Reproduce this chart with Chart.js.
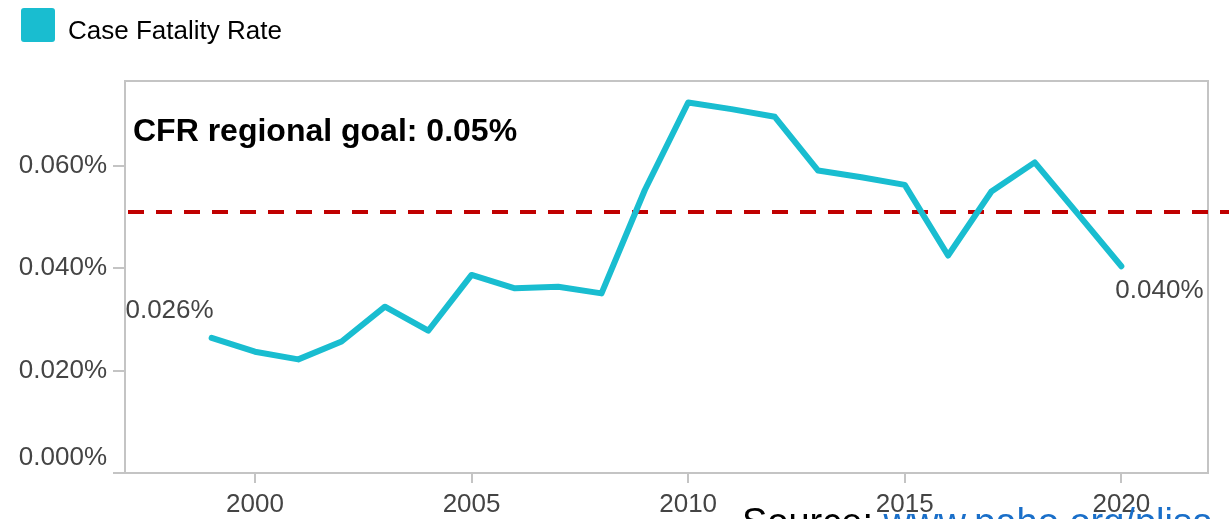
<!DOCTYPE html>
<html>
<head>
<meta charset="utf-8">
<script src="https://cdn.jsdelivr.net/npm/chart.js@4.4.1/dist/chart.umd.min.js"></script>
<style>
  html, body { margin: 0; padding: 0; background: #ffffff; }
  #wrap { width: 1229px; height: 519px; position: relative; }
</style>
</head>
<body>
<div id="wrap"><canvas id="c" width="1229" height="519"></canvas></div>
<script>
// ---- Data ----
const years = [1999, 2000, 2001, 2002, 2003, 2004, 2005, 2006, 2007, 2008, 2009, 2010,
               2011, 2012, 2013, 2014, 2015, 2016, 2017, 2018, 2019, 2020];
const cfrValues = [0.0264, 0.0237, 0.0222, 0.0257, 0.0325, 0.0278, 0.0387, 0.0361, 0.0364, 0.0351, 0.0553, 0.0724,
                   0.0711, 0.0696, 0.0591, 0.0578, 0.0563, 0.0425, 0.0550, 0.0607, 0.0506, 0.0404];
const goalValue = 0.051;
const goalRange = [1997, 2024];
const xTicks = [2000, 2005, 2010, 2015, 2020];
const yTicks = [0, 0.02, 0.04, 0.06];
const seriesName = 'Case Fatality Rate';
const goalText = 'CFR regional goal: 0.05%';
const sourceLabel = 'Source: ';
const sourceLink = 'www.paho.org/plisa';

const FONT = "'Liberation Sans', Arial, Helvetica, sans-serif";
const LINE_COLOR = '#19bdd0';
const AXIS_COLOR = '#c4c4c4';
const TEXT_COLOR = '#444444';
const fmt = v => v.toFixed(3) + '%';

const legendGap = {
  id: 'legendGap',
  afterInit(chart) {
    const legend = chart.legend;
    const origFit = legend.fit;
    legend.fit = function () { origFit.call(this); this.height += 29; };
  }
};

const decorations = {
  id: 'decorations',
  beforeDatasetsDraw(chart) {
    const { ctx, chartArea: a } = chart;
    ctx.save();
    ctx.strokeStyle = AXIS_COLOR;
    ctx.lineWidth = 2;
    ctx.beginPath();
    ctx.moveTo(a.left, a.top);
    ctx.lineTo(a.right, a.top);
    ctx.lineTo(a.right, a.bottom);
    ctx.stroke();
    ctx.restore();
  },
  afterDatasetsDraw(chart) {
    const { ctx, chartArea: a } = chart;
    const meta = chart.getDatasetMeta(0);
    const first = meta.data[0];
    const last = meta.data[meta.data.length - 1];
    ctx.save();
    // goal text
    ctx.font = 'bold 32px ' + FONT;
    ctx.fillStyle = '#000000';
    ctx.textAlign = 'left';
    ctx.textBaseline = 'alphabetic';
    ctx.fillText(goalText, a.left + 8, a.top + 60);
    // end labels
    ctx.font = '26px ' + FONT;
    ctx.fillStyle = TEXT_COLOR;
    ctx.textBaseline = 'middle';
    ctx.textAlign = 'right';
    ctx.fillText(fmt(cfrValues[0]), first.x + 2, first.y - 27);
    ctx.textAlign = 'left';
    ctx.fillText(fmt(cfrValues[cfrValues.length - 1]), last.x - 6, last.y + 25);
    ctx.restore();
  },
  afterDraw(chart) {
    const { ctx } = chart;
    ctx.save();
    ctx.font = '38px ' + FONT;
    ctx.textBaseline = 'alphabetic';
    ctx.textAlign = 'left';
    ctx.fillStyle = '#000000';
    const x0 = 742;
    ctx.fillText(sourceLabel, x0, 535);
    const w = ctx.measureText(sourceLabel).width;
    ctx.fillStyle = '#1a6fc9';
    ctx.fillText(sourceLink, x0 + w, 535);
    ctx.restore();
  }
};

new Chart(document.getElementById('c'), {
  type: 'line',
  data: {
    datasets: [
      {
        label: seriesName,
        data: years.map((y, i) => ({ x: y, y: cfrValues[i] })),
        borderColor: LINE_COLOR,
        backgroundColor: LINE_COLOR,
        borderWidth: 6,
        pointRadius: 0,
        tension: 0,
        borderCapStyle: 'round',
        borderJoinStyle: 'round',
        fill: false
      },
      {
        label: 'goal',
        data: goalRange.map(x => ({ x: x, y: goalValue })),
        borderColor: '#c00000',
        borderWidth: 4,
        borderDash: [16, 12],
        borderDashOffset: -3,
        pointRadius: 0,
        fill: false,
        clip: false
      }
    ]
  },
  options: {
    responsive: false,
    animation: false,
    devicePixelRatio: 1,
    layout: { padding: { top: 5, left: 18, right: 21, bottom: 0 } },
    plugins: {
      tooltip: { enabled: false },
      legend: {
        display: true,
        position: 'top',
        align: 'start',
        labels: {
          boxWidth: 34,
          boxHeight: 34,
          padding: 3,
          color: '#333333',
          font: { family: FONT, size: 26, lineHeight: '7px' },
          generateLabels(chart) {
            return [{
              text: ['', seriesName],
              fillStyle: LINE_COLOR,
              strokeStyle: LINE_COLOR,
              lineWidth: 0,
              borderRadius: 3,
              datasetIndex: 0,
              hidden: false
            }];
          },
          useBorderRadius: true,
          borderRadius: 3
        }
      }
    },
    scales: {
      x: {
        type: 'linear',
        min: 1997,
        max: 2022,
        afterBuildTicks: s => { s.ticks = xTicks.map(v => ({ value: v })); },
        afterFit: s => { s.height = 46; },
        grid: { drawOnChartArea: false, drawTicks: true, tickLength: 10, color: AXIS_COLOR, lineWidth: 2 },
        border: { color: AXIS_COLOR, width: 2 },
        ticks: {
          color: TEXT_COLOR,
          font: { family: FONT, size: 26 },
          padding: 6,
          maxRotation: 0,
          callback: v => String(v)
        }
      },
      y: {
        type: 'linear',
        min: 0,
        max: 0.0766,
        afterBuildTicks: s => { s.ticks = yTicks.map(v => ({ value: v })); },
        afterFit: s => { s.width = 107; },
        grid: { drawOnChartArea: false, drawTicks: true, tickLength: 12, color: AXIS_COLOR, lineWidth: 2 },
        border: { color: AXIS_COLOR, width: 2 },
        ticks: {
          color: TEXT_COLOR,
          font: { family: FONT, size: 26 },
          padding: 6,
          callback: v => (v === 0 ? [fmt(v), ''] : fmt(v))
        }
      }
    }
  },
  plugins: [legendGap, decorations]
});
</script>
</body>
</html>
